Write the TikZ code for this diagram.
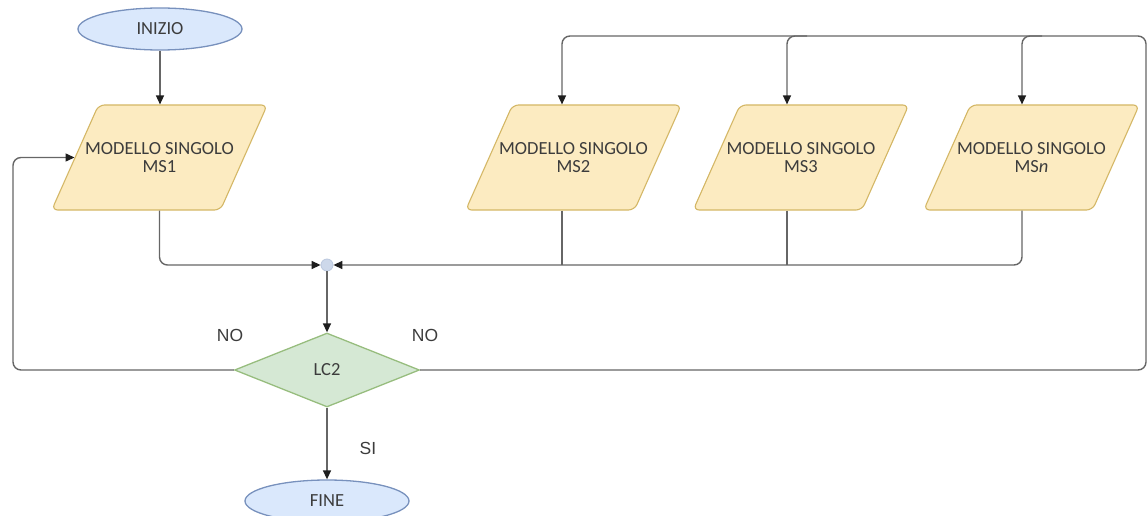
\documentclass[tikz,border=0pt]{standalone}
\usepackage{fontspec}
\setmainfont{Carlito}
\newfontfamily\arialf{Liberation Sans}
\usetikzlibrary{shapes.geometric,arrows.meta,calc}
\definecolor{ylfill}{HTML}{FCEBC1}
\definecolor{yldraw}{HTML}{D4B766}
\definecolor{blfill}{HTML}{DAE8FC}
\definecolor{bldraw}{HTML}{7891BD}
\definecolor{grfill}{HTML}{D5E8D4}
\definecolor{grdraw}{HTML}{97BD7E}
\definecolor{lncol}{HTML}{666666}
\definecolor{tipcol}{HTML}{1E1E1E}
\definecolor{txtcol}{HTML}{3C3C3C}
\definecolor{jfill}{HTML}{CDD8EA}
\begin{document}
\begin{tikzpicture}[x=1pt,y=-1pt,
  txt/.style={font=\fontsize{18.5}{18}\selectfont, text=txtcol, align=center},
  term/.style={txt, shape=ellipse, draw=bldraw, fill=blfill, line width=1.3pt,
    minimum width=164pt, minimum height=42pt, inner sep=0pt},
  msbox/.style={shape=trapezium, trapezium left angle=66, trapezium right angle=114,
    trapezium stretches body=true, text width=122pt, text height=0pt, text depth=0pt,
    minimum width=0pt, minimum height=0pt, inner xsep=0pt, inner ysep=52.5pt,
    draw=yldraw, fill=ylfill, line width=1.1pt, rounded corners=6pt},
  decis/.style={txt, shape=diamond, draw=grdraw, fill=grfill, line width=1.3pt,
    minimum width=185pt, minimum height=74pt, inner sep=0pt},
  junc/.style={shape=circle, draw=bldraw!50, fill=jfill, line width=0.8pt, minimum size=12pt, inner sep=0pt},
  lbl/.style={font=\arialf\fontsize{17.5}{18}\selectfont, text=txtcol},
  conn/.style={draw=lncol, line width=1.4pt, rounded corners=8pt},
  arr/.style={conn, -{Triangle[length=9pt,width=8pt,color=tipcol]}}
]
\useasboundingbox (0,0) rectangle (1148,516);

\node[term] (inizio) at (160,29) {INIZIO};
\node[msbox, label={[txt]center:{MODELLO SINGOLO\\MS1}}] (ms1) at (159.5,157.5) {};
\node[msbox, label={[txt]center:{MODELLO SINGOLO\\MS2}}] (ms2) at (573.5,157.5) {};
\node[msbox, label={[txt]center:{MODELLO SINGOLO\\MS3}}] (ms3) at (801,157.5) {};
\node[msbox, label={[txt]center:{MODELLO SINGOLO\\MS\textit{n}}}] (msn) at (1031.5,157.5) {};
\node[junc] (jn) at (327,265) {};
\node[decis] (lc2) at (327,370) {LC2};
\node[term] (fine) at (327,501) {FINE};

\node[lbl] (no1) at (230,335) {NO};
\node[lbl] (no2) at (425,335) {NO};
\node[lbl] (si) at (368,448) {SI};

% waypoints
\coordinate (lbot) at (13,370);
\coordinate (rbot) at (1146,370);
\coordinate (rtop) at (1146,36);
\coordinate (b2) at (562,36);
\coordinate (b3) at (787,36);
\coordinate (bn) at (1022,36);
\coordinate (busy) at (0,265);

% connectors
\draw[arr] (inizio.south) -- (inizio.south |- ms1.north);
\draw[arr] (lc2.west) -- (lbot) |- (ms1.west);
\draw[arr] (ms1.south) |- (jn.west);
\draw[arr] (bn |- msn.south) |- (jn.east);
\draw[conn] (b2 |- ms2.south) -- (b2 |- busy);
\draw[conn] (b3 |- ms3.south) -- (b3 |- busy);
\draw[arr] (jn.south) -- (lc2.north);
\draw[arr] (lc2.south) -- (fine.north);
\draw[arr] (lc2.east) -- (rbot) -- (rtop) -- (b2) -- (b2 |- ms2.north);
\draw[arr] ([xshift=20pt]b3) -| (b3 |- ms3.north);
\draw[arr] ([xshift=20pt]bn) -| (bn |- msn.north);
\end{tikzpicture}
\end{document}
